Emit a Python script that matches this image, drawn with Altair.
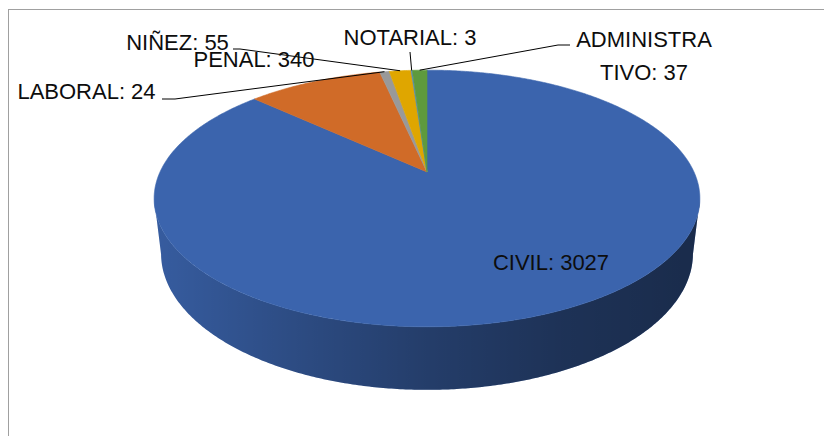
import numpy as np
import pandas as pd
import altair as alt

# ---------------- data ----------------
categories = ["CIVIL", "PENAL", "LABORAL", "NIÑEZ", "NOTARIAL", "ADMINISTRATIVO"]
values = [3027, 340, 24, 55, 3, 37]

# ---------------- style ----------------
palette = ["#3B64AD", "#D06B28", "#999999", "#DFA600", "#5089C0", "#5E9A3D"]
FONT = "Liberation Sans"

# ---------------- 3-D view settings (camera) ----------------
TILT = np.radians(27.4)   # camera elevation
DIST = 4.305              # camera distance, in pie radii
FOCAL = 1149.5            # focal length, px
DEPTH = 0.234             # pie thickness, in pie radii
CX, CY = 427, 172         # page position of the pie centre
W, H = 816, 428           # plot area
MARGIN = 8


def project(u, v, w):
    """u: right, v: far, w: up  -> (x, y) px offsets from the centre, y up."""
    zc = DIST + v * np.cos(TILT) - w * np.sin(TILT)
    yc = v * np.sin(TILT) + w * np.cos(TILT)
    return FOCAL * u / zc, FOCAL * yc / zc


def arc(a0, a1, w):
    n = max(2, int(np.ceil((a1 - a0) / 0.5)) + 1)
    t = np.radians(np.linspace(a0, a1, n))
    return project(np.sin(t), np.cos(t), np.full_like(t, w))


total = float(sum(values))
ends = np.cumsum(values) / total * 360.0
starts = ends - np.array(values) / total * 360.0

# visible front of the rim (silhouette angles)
th_r = np.degrees(np.arccos(-np.cos(TILT) / DIST))
th_l = 360.0 - th_r

top_rows, side_rows = [], []
for cat, a0, a1 in zip(categories, starts, ends):
    ax, ay = project(0.0, 0.0, 0.0)
    xs, ys = arc(a0, a1, 0.0)
    px = np.concatenate([[ax], xs])
    py = np.concatenate([[ay], ys])
    for i, (x, y) in enumerate(zip(px, py)):
        top_rows.append({"cat": cat, "i": i, "x": x, "y": y})
    s0, s1 = max(a0, th_r), min(a1, th_l)
    if s1 > s0:
        tx, ty = arc(s0, s1, 0.0)
        bx, by = arc(s0, s1, -DEPTH)
        px = np.concatenate([tx, bx[::-1]])
        py = np.concatenate([ty, by[::-1]])
        for i, (x, y) in enumerate(zip(px, py)):
            side_rows.append({"cat": cat, "i": i, "x": x, "y": y})

top_df = pd.DataFrame(top_rows)
side_df = pd.DataFrame(side_rows)

# ---------------- labels (layout in page px) ----------------
label_pos = {
    "CIVIL": (551, 270),
    "PENAL": (254, 67),
    "LABORAL": (86.5, 99),
    "NIÑEZ": (177.5, 50),
    "NOTARIAL": (410, 45),
    "ADMINISTRATIVO": (644, 47),
}
leader_pts = {
    "LABORAL": [(162, 99), (175, 99)],
    "NIÑEZ": [(233, 49), (240, 49)],
    "NOTARIAL": [(410, 52), (410, 52)],
    "ADMINISTRATIVO": [(570, 45), (558, 45)],
}


def wrap(cat, val):
    text = f"{cat}: {val}"
    if len(cat) > 12:
        text = cat[:10] + "\n" + cat[10:] + f": {val}"
    return text


lab_rows, lead_rows = [], []
for cat, val, a0, a1 in zip(categories, values, starts, ends):
    lx, ly = label_pos[cat]
    lab_rows.append({"cat": cat, "label": wrap(cat, val), "x": lx - CX, "y": CY - ly})
    if cat in leader_pts:
        m = np.radians((a0 + a1) / 2)
        ex, ey = project(np.sin(m), np.cos(m), 0.0)
        pts = [(p[0] - CX, CY - p[1]) for p in leader_pts[cat]] + [(ex, ey)]
        for i, (x, y) in enumerate(pts):
            lead_rows.append({"cat": cat, "i": i, "x": x, "y": y})

lab_df = pd.DataFrame(lab_rows)
lead_df = pd.DataFrame(lead_rows)

# ---------------- chart ----------------
xscale = alt.Scale(domain=[MARGIN - CX, MARGIN + W - CX], nice=False, zero=False)
yscale = alt.Scale(domain=[CY - MARGIN - H, CY - MARGIN], nice=False, zero=False)
X = alt.X("x:Q", scale=xscale, axis=None)
Y = alt.Y("y:Q", scale=yscale, axis=None)
cscale = alt.Scale(domain=categories, range=palette)

side = alt.Chart(side_df).mark_line(
    filled=True, interpolate="linear-closed", strokeWidth=0
).encode(X, Y, fill=alt.Fill("cat:N", scale=cscale, legend=None), order="i:Q")

shade = alt.Chart(side_df).mark_line(
    filled=True,
    interpolate="linear-closed",
    strokeWidth=0,
    fill=alt.Gradient(
        gradient="linear",
        stops=[
            alt.GradientStop(offset=0, color="rgba(0,0,0,0.08)"),
            alt.GradientStop(offset=0.25, color="rgba(0,0,0,0.24)"),
            alt.GradientStop(offset=0.5, color="rgba(0,0,0,0.39)"),
            alt.GradientStop(offset=0.75, color="rgba(0,0,0,0.50)"),
            alt.GradientStop(offset=1, color="rgba(0,0,0,0.57)"),
        ],
        x1=0, x2=1, y1=0, y2=0,
    ),
).encode(X, Y, detail="cat:N", order="i:Q")

top = alt.Chart(top_df).mark_line(
    filled=True, interpolate="linear-closed", strokeWidth=0.6
).encode(
    X, Y,
    fill=alt.Fill("cat:N", scale=cscale, legend=None),
    stroke=alt.Stroke("cat:N", scale=cscale, legend=None),
    order="i:Q",
)

leaders = alt.Chart(lead_df).mark_line(color="#000000", strokeWidth=1).encode(
    X, Y, detail="cat:N", order="i:Q"
)

labels = alt.Chart(lab_df).mark_text(
    font=FONT, fontSize=22, align="center", baseline="alphabetic",
    lineBreak="\n", lineHeight=33, color="#0D0D0D"
).encode(X, Y, text="label:N")

frame_df = pd.DataFrame({"k": [0]})
frame_left = alt.Chart(frame_df).mark_rule(color="#A0A0A0", strokeWidth=1).encode(
    x=alt.value(0.5), y=alt.value(1), y2=alt.value(H)
)
frame_top = alt.Chart(frame_df).mark_rule(color="#A0A0A0", strokeWidth=1).encode(
    x=alt.value(0), x2=alt.value(W), y=alt.value(1.5)
)

chart = alt.layer(side, shade, top, leaders, labels, frame_left, frame_top).properties(
    width=W, height=H, padding=0, autosize=alt.AutoSizeParams(type="none")
).configure_view(stroke=None)

chart.save("out.html", embed_options={"renderer": "svg", "actions": False})
